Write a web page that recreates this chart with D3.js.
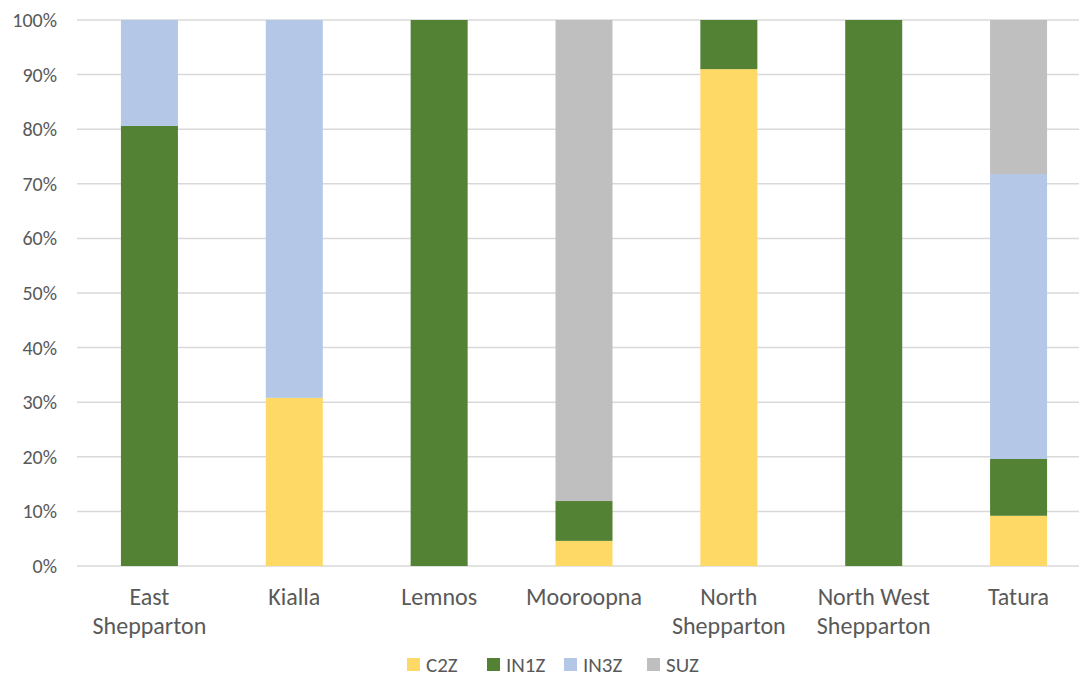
<!DOCTYPE html>
<html>
    <head>
        <meta charset="utf-8">
        <script src="https://d3js.org/d3.v7.min.js"></script>
        <style>
            body { margin:0; background:#fff; }
            text { font-family: Calibri, Carlito, Lato, sans-serif; fill:#595959; }
        </style>
    </head>

    <body>
        <script>
            var towns = [["East", "Shepparton"], ["Kialla"], ["Lemnos"], ["Mooroopna"],
                         ["North", "Shepparton"], ["North West", "Shepparton"], ["Tatura"]];
            var zones = ["C2Z", "IN1Z", "IN3Z", "SUZ"];
            var colors = ["#FFD966", "#548235", "#B4C7E7", "#BFBFBF"];

            // share of each zone per town (fractions)
            var c2z  = [0,     0.308, 0, 0.046, 0.910, 0, 0.092];
            var in1z = [0.806, 0,     1, 0.073, 0.090, 1, 0.104];
            var in3z = [0.194, 0.692, 0, 0,     0,     0, 0.522];
            var suz  = [0,     0,     0, 0.881, 0,     0, 0.282];

            var yTicks = [0, 0.1, 0.2, 0.3, 0.4, 0.5, 0.6, 0.7, 0.8, 0.9, 1];

            var width = 1079, height = 677;
            var plotLeft = 77, plotRight = 1091, plotTop = 20, plotBottom = 566;

            var rows = towns.map(function (t, i) {
                return {town: t.join(" "), C2Z: c2z[i], IN1Z: in1z[i], IN3Z: in3z[i], SUZ: suz[i]};
            });

            var series = d3.stack().keys(zones)(rows);

            var x = d3.scaleBand()
                    .domain(rows.map(function (d) { return d.town; }))
                    .range([plotLeft, plotRight])
                    .paddingInner(0.6065)
                    .paddingOuter(0.30325);

            var y = d3.scaleLinear().domain([0, 1]).range([plotBottom, plotTop]);

            var color = d3.scaleOrdinal().domain(zones).range(colors);

            var svg = d3.select("body").append("svg")
                    .attr("width", width)
                    .attr("height", height);

            // gridlines
            svg.append("g").selectAll("line")
                    .data(yTicks)
                    .enter().append("line")
                    .attr("x1", plotLeft).attr("x2", plotRight)
                    .attr("y1", function (d) { return y(d); })
                    .attr("y2", function (d) { return y(d); })
                    .attr("stroke", "#D9D9D9")
                    .attr("stroke-width", 1.5);

            // y labels
            svg.append("g").selectAll("text")
                    .data(yTicks)
                    .enter().append("text")
                    .attr("x", 57)
                    .attr("y", function (d) { return y(d); })
                    .attr("dy", "0.35em")
                    .attr("text-anchor", "end")
                    .style("font-size", "20px")
                    .text(d3.format(".0%"));

            // bars
            svg.append("g").selectAll("g")
                    .data(series)
                    .enter().append("g")
                    .attr("fill", function (d) { return color(d.key); })
                    .selectAll("rect")
                    .data(function (d) { return d; })
                    .enter().append("rect")
                    .attr("x", function (d) { return x(d.data.town); })
                    .attr("width", x.bandwidth())
                    .attr("y", function (d) { return y(d[1]); })
                    .attr("height", function (d) { return y(d[0]) - y(d[1]); });

            // x labels
            var xl = svg.append("g").selectAll("text")
                    .data(towns)
                    .enter().append("text")
                    .attr("x", function (d) { return x(d.join(" ")) + x.bandwidth() / 2; })
                    .attr("y", 605)
                    .attr("text-anchor", "middle")
                    .style("font-size", "24px");
            xl.selectAll("tspan")
                    .data(function (d) { return d; })
                    .enter().append("tspan")
                    .attr("x", function () { return d3.select(this.parentNode).attr("x"); })
                    .attr("dy", function (d, i) { return i ? 29 : 0; })
                    .text(function (d) { return d; });

            // legend
            var legendX = [407, 487, 564, 647];
            var lg = svg.append("g").selectAll("g")
                    .data(zones)
                    .enter().append("g")
                    .attr("transform", function (d, i) { return "translate(" + legendX[i] + ",658)"; });
            lg.append("rect")
                    .attr("width", 13).attr("height", 13)
                    .attr("fill", function (d) { return color(d); });
            lg.append("text")
                    .attr("x", 19).attr("y", 6.5)
                    .attr("dy", "0.35em")
                    .style("font-size", "21px")
                    .text(function (d) { return d; });
        </script>
    </body>
</html>
